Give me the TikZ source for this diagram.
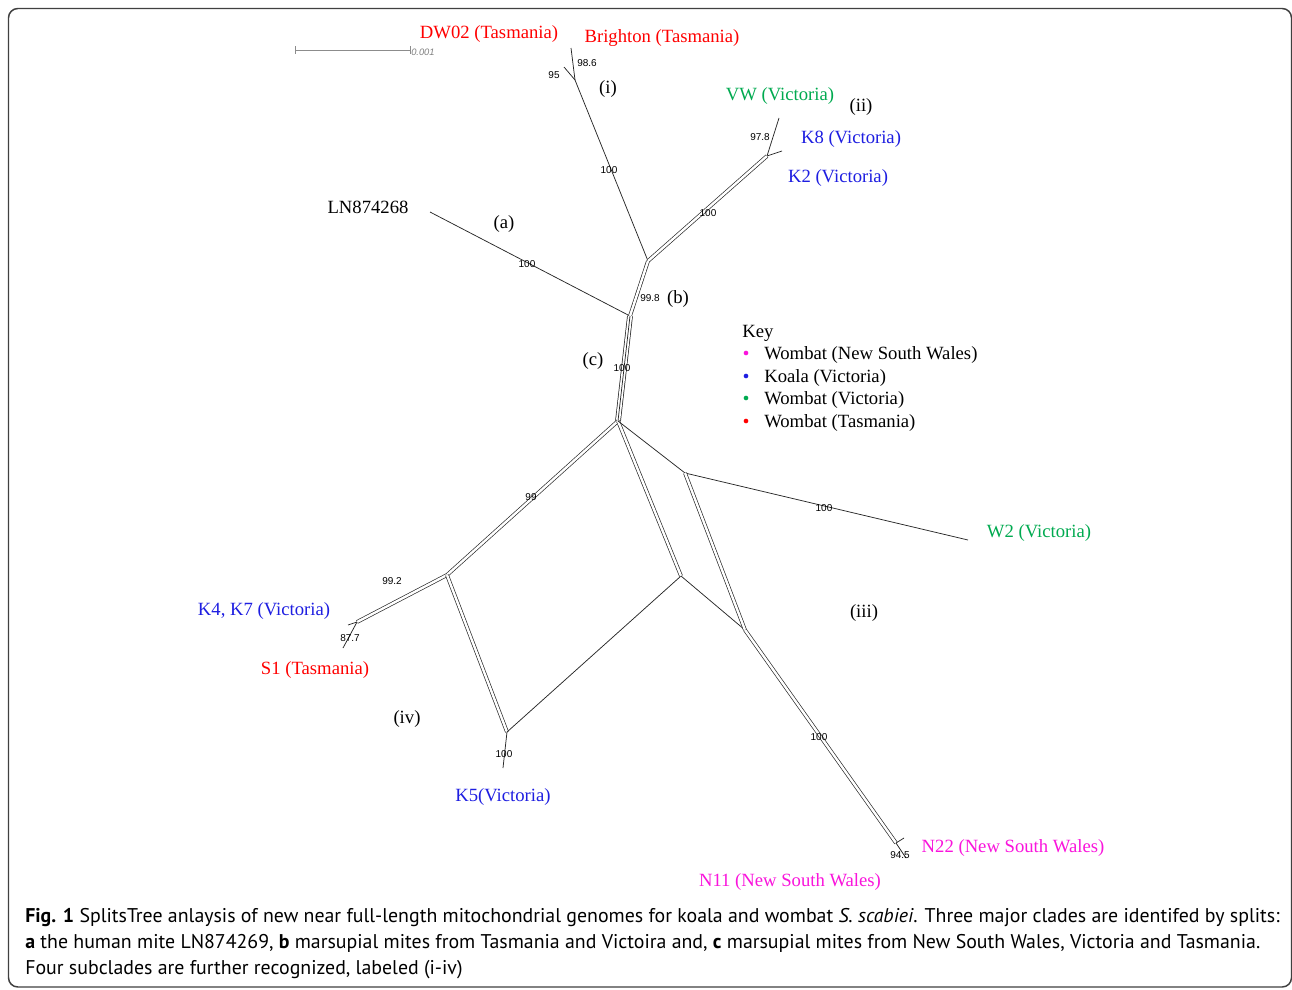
\documentclass[tikz,border=0pt]{standalone}
\usepackage{fontspec}
\setmainfont{Liberation Serif}
\newfontfamily\capfont{PT Sans}
\newfontfamily\numfont{Liberation Sans}
\definecolor{tasred}{RGB}{255,0,0}
\definecolor{vicgreen}{RGB}{0,170,80}
\definecolor{koalablue}{RGB}{30,30,225}
\definecolor{nswmag}{RGB}{250,20,220}
\begin{document}
\begin{tikzpicture}[x=0.75pt,y=-0.75pt,
  lab/.style={font=\fontsize{14}{16}\selectfont, inner sep=0pt, yshift=-1.5pt},
  num/.style={font=\numfont\fontsize{7.5}{9}\selectfont, inner sep=0pt},
  edge/.style={line width=0.55pt, draw=black!85},
  dbl/.style={draw=black!85, line width=0.5pt, double=white, double distance=1.8pt},
  trp/.style={draw=black!85, line width=0.55pt, double=white, double distance=3.2pt},
  keydot/.style={circle, fill=#1, inner sep=0pt, minimum size=3.5pt},
  captext/.style={font=\capfont\fontsize{14.9}{17}\selectfont, inner sep=0pt, anchor=base west}]
\useasboundingbox (0,0) rectangle (1292,989);
\fill[white] (0,0) rectangle (1292,989);
% frame
\draw[black!75, line width=1.1pt, rounded corners=7pt] (8.5,8.5) rectangle (1291.5,987);

% scale bar
\coordinate (sbL) at (295,50);
\coordinate (sbR) at (410,50);
\draw[black!45, line width=0.6pt] (sbL) -- (sbR);
\draw[black!45, line width=0.6pt] ([yshift=3pt]sbL) -- ([yshift=-3pt]sbL);
\draw[black!45, line width=0.6pt] ([yshift=3pt]sbR) -- ([yshift=-3pt]sbR);
\node[font=\numfont\itshape\fontsize{7}{8}\selectfont, text=black!50, inner sep=0pt, anchor=west] (sbT) at (411,52) {0.001};

% junction coordinates
\coordinate (iN) at (575,80);
\coordinate (BriE) at (571,48);
\coordinate (DWE) at (564,67);
\coordinate (bTop) at (648,261);
\coordinate (bBot) at (630,316);
\coordinate (LNE) at (430,212);
\coordinate (vN) at (767,156);
\coordinate (VWE) at (779,118);
\coordinate (K2E) at (782,151);
\coordinate (cBot) at (618,421);
\coordinate (pA) at (447,575);
\coordinate (K4N) at (357,622);
\coordinate (K4E) at (348,625);
\coordinate (S1E) at (343,648);
\coordinate (pK5) at (507,732);
\coordinate (K5E) at (503,768);
\coordinate (pM) at (681,576);
\coordinate (pW) at (685,473);
\coordinate (W2E) at (968,540);
\coordinate (pR) at (745,630);
\coordinate (NN) at (896,843);
\coordinate (N11E) at (906,858);
\coordinate (N22E) at (904,838);

% clade (i)
\draw[edge] (bTop) -- (iN) -- (BriE);
\draw[edge] (iN) -- (DWE);
% clade (ii)
\draw[dbl] (bTop) -- (vN);
\draw[edge] (vN) -- (VWE);
\draw[edge] (vN) -- (K2E);
% (a) LN
\draw[edge] (bBot) -- (LNE);
% split (b)
\draw[dbl] (bTop) -- (bBot);
% split (c)
\draw[trp] (bBot) -- (cBot);
\draw[edge] (bBot) -- (cBot);
% lower network
\draw[dbl] (cBot) -- (pA);
\draw[dbl] (pA) -- (K4N);
\draw[edge] (K4N) -- (K4E);
\draw[edge] (K4N) -- (S1E);
\draw[dbl] (pA) -- (pK5);
\draw[edge] (pK5) -- (K5E);
\draw[edge] (pK5) -- (pM);
\draw[dbl] (cBot) -- (pM);
\draw[edge] (pM) -- (pR);
\draw[edge] (cBot) -- (pW);
\draw[edge] (pW) -- (W2E);
\draw[dbl] (pW) -- (pR);
\draw[dbl] (pR) -- (NN);
\draw[edge] (NN) -- (N11E);
\draw[edge] (NN) -- (N22E);

% support values
\node[num] (n986) at (587,63) {98.6};
\node[num] (n95) at (554,75) {95};
\node[num] (n100i) at (609,170) {100};
\node[num] (n978) at (760,137) {97.8};
\node[num] (n100ii) at (708,213) {100};
\node[num] (n100a) at (527,264) {100};
\node[num] (n998) at (650,298) {99.8};
\node[num] (n100c) at (622,368) {100};
\node[num] (n99) at (531,497) {99};
\node[num] (n100w) at (824,508) {100};
\node[num] (n992) at (392,581) {99.2};
\node[num] (n877) at (350,638) {87.7};
\node[num] (n100k5) at (504,754) {100};
\node[num] (n100n) at (819,737) {100};
\node[num] (n945) at (900,855) {94.5};

% taxon labels
\node[lab, text=tasred] (DW) at (489,32) {DW02 (Tasmania)};
\node[lab, text=tasred] (Bri) at (662,36) {Brighton (Tasmania)};
\node[lab] (ci) at (608,87) {(i)};
\node[lab, text=vicgreen] (VW) at (780,94) {VW (Victoria)};
\node[lab] (cii) at (861,105) {(ii)};
\node[lab, text=koalablue] (K8) at (851,137) {K8 (Victoria)};
\node[lab, text=koalablue] (K2) at (838,176) {K2 (Victoria)};
\node[lab] (LN) at (368,205) {LN874268};
\node[lab] (ca) at (504,222) {(a)};
\node[lab] (cb) at (678,297) {(b)};
\node[lab] (cc) at (593,359) {(c)};
\node[lab, text=vicgreen] (W2) at (1039,531) {W2 (Victoria)};
\node[lab] (ciii) at (864,611) {(iii)};
\node[lab, text=koalablue] (K47) at (264,609) {K4, K7 (Victoria)};
\node[lab, text=tasred] (S1) at (315,668) {S1 (Tasmania)};
\node[lab] (civ) at (407,717) {(iv)};
\node[lab, text=koalablue] (K5) at (503,795) {K5(Victoria)};
\node[lab, text=nswmag] (N22) at (1013,846) {N22 (New South Wales)};
\node[lab, text=nswmag] (N11) at (790,880) {N11 (New South Wales)};

% key
\node[lab, anchor=west] (key) at (742,331) {Key};
\node[keydot=nswmag] (d1) at (746,353) {};
\node[keydot=koalablue] (d2) at (746,376) {};
\node[keydot=vicgreen] (d3) at (746,398) {};
\node[keydot=tasred] (d4) at (746,421) {};
\node[lab, anchor=west] (k1) at (764,353) {Wombat (New South Wales)};
\node[lab, anchor=west] (k2) at (764,376) {Koala (Victoria)};
\node[lab, anchor=west] (k3) at (764,398) {Wombat (Victoria)};
\node[lab, anchor=west] (k4) at (764,421) {Wombat (Tasmania)};

% caption
\node[captext] (cap1) at (25,922) {\textbf{Fig. 1} SplitsTree anlaysis of new near full-length mitochondrial genomes for koala and wombat \textit{S. scabiei}. Three major clades are identifed by splits:};
\node[captext] (cap2) at (25,948) {\textbf{a} the human mite LN874269, \textbf{b} marsupial mites from Tasmania and Victoira and, \textbf{c} marsupial mites from New South Wales, Victoria and Tasmania.};
\node[captext] (cap3) at (25,974) {Four subclades are further recognized, labeled (i-iv)};
\end{tikzpicture}
\end{document}
